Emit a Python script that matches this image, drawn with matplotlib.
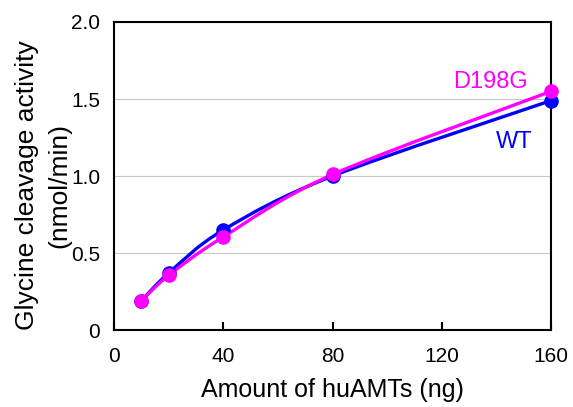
import numpy as np
import matplotlib
matplotlib.use("Agg")
import matplotlib.pyplot as plt
from matplotlib.path import Path
from matplotlib.patches import PathPatch

plt.rcParams['font.family'] = ['Liberation Sans', 'DejaVu Sans']

# amount of enzyme (ng) and activity (nmol/min)
amount = [10, 20, 40, 80, 160]
wt = [0.19, 0.37, 0.65, 1.00, 1.49]
d198g = [0.19, 0.355, 0.605, 1.01, 1.55]

x_ticks = [0, 40, 80, 120, 160]
y_ticks = [0, 0.5, 1.0, 1.5, 2.0]


# smooth curve through the points (Catmull-Rom as cubic bezier, like Excel smoothing)
def smooth_path(x, y):
    x = np.asarray(x, float)
    y = np.asarray(y, float)
    verts = [(x[0], y[0])]
    codes = [Path.MOVETO]
    n = len(x)
    for i in range(n - 1):
        x0, y0 = (x[i - 1], y[i - 1]) if i > 0 else (x[i], y[i])
        x3, y3 = (x[i + 2], y[i + 2]) if i + 2 < n else (x[i + 1], y[i + 1])
        c1 = (x[i] + (x[i + 1] - x0) / 6, y[i] + (y[i + 1] - y0) / 6)
        c2 = (x[i + 1] - (x3 - x[i]) / 6, y[i + 1] - (y3 - y[i]) / 6)
        verts += [c1, c2, (x[i + 1], y[i + 1])]
        codes += [Path.CURVE4] * 3
    return Path(verts, codes)


fig = plt.figure(figsize=(5.73, 4.07), dpi=100)
ax = fig.add_axes([0.199, 0.189, 0.763, 0.757])

for vals, col in [(wt, '#0000ff'), (d198g, '#ff00ff')]:
    ax.add_patch(PathPatch(smooth_path(amount, vals), facecolor='none',
                           edgecolor=col, lw=2.4, zorder=3, clip_on=False))
    ax.plot(amount, vals, 'o', color=col, ms=9.5, zorder=4, clip_on=False)

ax.set_xlim(0, 160)
ax.set_ylim(0, 2.0)
ax.set_xticks(x_ticks)
ax.set_yticks(y_ticks)
ax.set_yticklabels(['0', '0.5', '1.0', '1.5', '2.0'])
ax.tick_params(axis='x', direction='in', length=6, width=1.5, labelsize=15, pad=12)
ax.tick_params(axis='y', length=0, labelsize=15, pad=10)
ax.grid(axis='y', color='#c8c8c8', lw=0.8)
ax.set_axisbelow(True)
for s in ax.spines.values():
    s.set_linewidth(1.5)

ax.set_xlabel('Amount of huAMTs (ng)', fontsize=18, labelpad=9)
ax.set_ylabel('Glycine cleavage activity\n(nmol/min)', fontsize=19, linespacing=1.45)
ax.yaxis.set_label_coords(-0.098, 0.47)

ax.text(151.5, 1.61, 'D198G', color='#ff00ff', fontsize=17, ha='right', va='center')
ax.text(153, 1.22, 'WT', color='#0000ff', fontsize=17, ha='right', va='center')

fig.savefig('out.png', dpi=100)
